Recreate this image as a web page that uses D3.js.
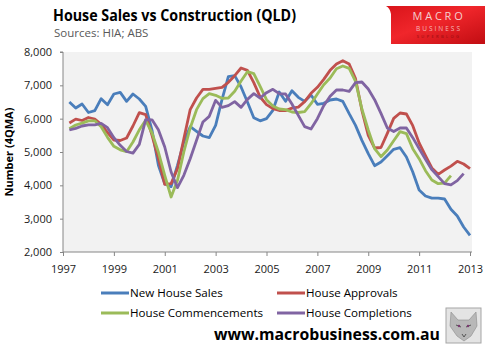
<!DOCTYPE html>
<html>
<head>
<meta charset="utf-8">
<script src="https://cdnjs.cloudflare.com/ajax/libs/d3/7.8.5/d3.min.js"></script>
<style>
  body { margin: 0; background: #fff; }
  svg { display: block; }
  text { font-family: "Open Sans", "Noto Sans", sans-serif; }
</style>
</head>
<body>
<div id="chart"></div>
<script>
// quarterly points, 4 quarter moving average, first one is Jun 1997
var quarters = d3.range(64).map(function(i){ return 1997.25 + i * 0.25 })

var newHouseSales = [6500,6320,6440,
  6185,6240,6600,6420, 6740,6790,6520,6740, 6590,6370,5650,4600, 4050,3960,4600,5300,
  5760,5620,5480,5430, 5800,6570,7260,7290, 6950,6500,6030,5935, 6000,6250,6800,6520,
  6840,6640,6520,6710, 6430,6460,6560,6590, 6520,6150,5800,5350, 4950,4590,4700,4890,
  5080,5130,4850,4400, 3860,3680,3615,3615, 3590,3280,3080,2750, 2500]

var houseApprovals = [5870,5985,5945,
  6035,5990,5830,5580, 5360,5345,5420,5780, 6180,6120,5500,4800, 4030,4050,4500,5400,
  6270,6620,6880,6880, 6910,6940,7090,7290, 7520,7450,7080,6650, 6420,6300,6245,6240,
  6315,6345,6510,6760, 6940,7180,7450,7640, 7740,7640,7200,6250, 5500,5120,5135,5560,
  6010,6170,6140,5790, 5270,4890,4520,4330, 4460,4575,4720,4640, 4500]

var houseCommencements = [5700,5810,5865,
  5935,5935,5760,5440, 5170,5065,5010,5300, 5665,5950,5570,5000, 4300,3650,4150,5000,
  5720,6270,6600,6750, 6700,6610,6620,6820, 7130,7410,7350,6970, 6570,6380,6290,6270,
  6200,6185,6210,6450, 6740,7020,7220,7500, 7580,7510,7120,6290, 5660,5100,4860,5060,
  5340,5610,5550,5100, 4800,4440,4160,4050, 4065,4290]

var houseCompletions = [5660,5710,5780,
  5815,5815,5860,5730, 5430,5200,5015,4965, 5230,5970,5965,5665, 5150,4400,3930,4300,
  4800,5350,5900,6070, 6550,6340,6390,6510, 6340,6580,6750,6620, 6780,6880,6750,6740,
  6440,6100,5760,5690, 6000,6390,6670,6860, 6860,6820,7080,7100, 6890,6570,6160,5720,
  5615,5720,5720,5430, 5100,4780,4470,4260, 4050,4015,4140,4350]

var seriesNames = ["New House Sales","House Approvals","House Commencements","House Completions"]
var seriesData = [newHouseSales, houseApprovals, houseCommencements, houseCompletions]
var seriesColors = ["#4a7ebb","#c0504d","#9bbb59","#8064a2"]

var yTicks = [2000,3000,4000,5000,6000,7000,8000]
var xTicks = [1997,1999,2001,2003,2005,2007,2009,2011,2013]

var width = 492, height = 354
var margin = {top: 52, right: 20, bottom: 102, left: 63}

var svg = d3.select("#chart").append("svg")
  .attr("width", width)
  .attr("height", height)

// title
svg.append("text").text("House Sales vs Construction (QLD)")
  .attr("x", 53).attr("y", 21)
  .attr("textLength", 243).attr("lengthAdjust", "spacingAndGlyphs")
  .style("font-size", "16px").style("font-weight", "bold").style("fill", "#000")

svg.append("text").text("Sources: HIA; ABS")
  .attr("x", 54).attr("y", 37)
  .style("font-size", "11.5px").style("fill", "#595959")

// macro business logo
var defs = svg.append("defs")
var grad = defs.append("linearGradient").attr("id", "logoGrad")
  .attr("x1", "0").attr("y1", "0").attr("x2", "1").attr("y2", "1")
grad.append("stop").attr("offset", "0%").attr("stop-color", "#d9141a")
grad.append("stop").attr("offset", "45%").attr("stop-color", "#f0262b")
grad.append("stop").attr("offset", "100%").attr("stop-color", "#c10d12")

var logo = svg.append("g").attr("transform", "translate(386,6)")
logo.append("path")
  .attr("d", "M6,0 L99,0 L99,38 L5,38 L5,8 Q4,2 0,0 Z")
  .style("fill", "url(#logoGrad)")
logo.append("text").text("MACRO")
  .attr("x", 53).attr("y", 14).attr("text-anchor", "middle")
  .style("font-size", "11px").style("letter-spacing", "2.8px").style("fill", "#f4d0d0")
logo.append("text").text("BUSINESS")
  .attr("x", 53).attr("y", 25).attr("text-anchor", "middle")
  .style("font-size", "6.5px").style("letter-spacing", "2px").style("fill", "#f6b8b8")
logo.append("text").text("SUPERBLOG")
  .attr("x", 53).attr("y", 32).attr("text-anchor", "middle")
  .style("font-size", "4px").style("letter-spacing", "2.4px").style("fill", "#8e0b0e")

// plot area
var plotH = height - margin.top - margin.bottom

var x = d3.scaleLinear().domain([1997, 2013]).range([margin.left, margin.left + 407])
var y = d3.scaleLinear().domain([2000, 8000]).range([margin.top + plotH, margin.top])

svg.append("rect")
  .attr("x", margin.left).attr("y", margin.top)
  .attr("width", 409).attr("height", plotH)
  .style("fill", "#f2f2f2")

var yAxis = d3.axisLeft(y).tickValues(yTicks).tickFormat(d3.format(",")).tickSize(3).tickPadding(8)
var xAxis = d3.axisBottom(x).tickValues(xTicks).tickFormat(d3.format("d")).tickSize(4).tickPadding(9)

var gy = svg.append("g")
  .attr("transform", `translate(${margin.left},0)`)
  .call(yAxis)
var gx = svg.append("g")
  .attr("transform", `translate(0,${margin.top + plotH})`)
  .call(xAxis)

gy.select(".domain").attr("d", `M-3,${margin.top}H0V${margin.top + plotH}`)
gx.select(".domain").attr("d", `M${margin.left},0H${margin.left + 409}`)

svg.selectAll(".domain, .tick line").style("stroke", "#868686")
svg.selectAll(".tick text")
  .style("font-size", "11px").style("fill", "#1a1a1a")
  .style("font-family", "'Open Sans', sans-serif")

svg.append("text").text("Number (4QMA)")
  .attr("transform", "translate(13,152) rotate(-90)")
  .attr("text-anchor", "middle")
  .style("font-size", "11px").style("font-weight", "bold").style("fill", "#000")

// lines
var line = d3.line()
  .x(function(d, i){ return x(quarters[i]) })
  .y(function(d){ return y(d) })

svg.append("g").selectAll("path")
  .data(seriesData)
  .enter()
  .append("path")
  .attr("d", function(d){ return line(d) })
  .style("fill", "none")
  .style("stroke", function(d, i){ return seriesColors[i] })
  .style("stroke-width", 2.8)
  .style("stroke-linejoin", "round")

// legend
var legendPos = [[101, 293], [277, 293], [101, 313], [277, 313]]
var legend = svg.append("g").selectAll("g")
  .data(seriesNames)
  .enter()
  .append("g")
  .attr("transform", function(d, i){ return `translate(${legendPos[i][0]},${legendPos[i][1]})` })

legend.append("line")
  .attr("x1", 0).attr("x2", 28).attr("y1", 0).attr("y2", 0)
  .style("stroke", function(d, i){ return seriesColors[i] })
  .style("stroke-width", 3)
legend.append("text").text(function(d){ return d })
  .attr("x", 29).attr("y", 4)
  .style("font-size", "11.6px").style("fill", "#000")

// footer url
svg.append("text").text("www.macrobusiness.com.au")
  .attr("x", 214).attr("y", 340)
  .attr("textLength", 226).attr("lengthAdjust", "spacingAndGlyphs")
  .style("font-size", "16px").style("font-weight", "bold").style("fill", "#000")

// little wolf badge
var wolf = svg.append("g").attr("transform", "translate(446,308)")
wolf.append("rect").attr("width", 35).attr("height", 35)
  .style("fill", "#e4e4e4").style("stroke", "#a6a6a6").style("stroke-width", 1)
wolf.append("path")
  .attr("d", "M5,4 L12,12 L23,12 L30,4 L31,18 L25,28 L18,33 L11,28 L4,18 Z")
  .style("fill", "#b8b8b8").style("stroke", "#8c8c8c").style("stroke-width", 0.6)
wolf.append("path")
  .attr("d", "M10,17 L15,19 M25,17 L20,19 M16,26 L18,29 L20,26")
  .style("fill", "none").style("stroke", "#555").style("stroke-width", 1)
wolf.append("circle").attr("cx", 13).attr("cy", 18).attr("r", 1.2).style("fill", "#7a3a70")
wolf.append("circle").attr("cx", 22).attr("cy", 18).attr("r", 1.2).style("fill", "#7a3a70")
</script>
</body>
</html>
